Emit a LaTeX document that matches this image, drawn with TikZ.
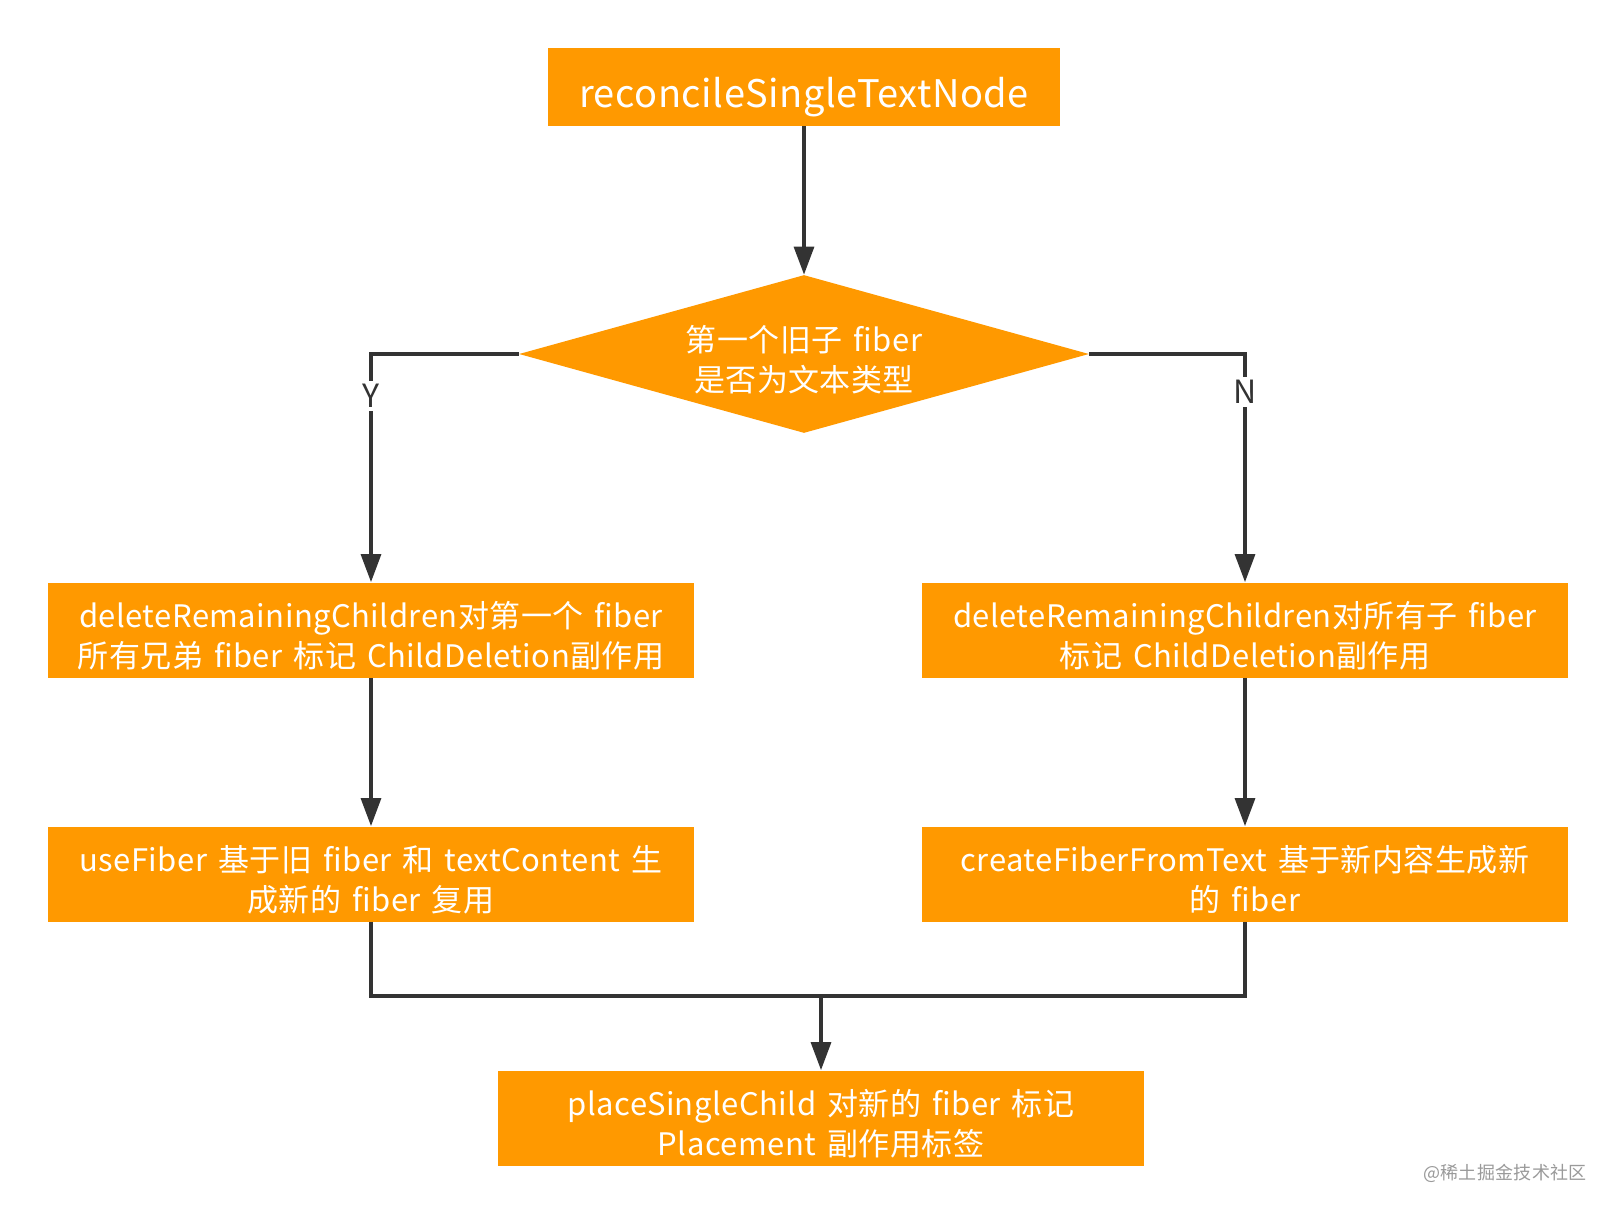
\documentclass[tikz,border=0pt]{standalone}
\usepackage{fontspec}
\setmainfont{Noto Sans CJK SC}[LetterSpace=1.5,WordSpace=1.5]
\usetikzlibrary{arrows.meta,shapes.geometric}
\definecolor{org}{HTML}{FF9900}
\definecolor{lnc}{HTML}{333333}
\definecolor{wm}{HTML}{9A9A9A}
\newcommand{\topstrut}[1]{\rule{0pt}{#1}}
\begin{document}
\begin{tikzpicture}[x=0.5pt,y=-0.5pt,
  box/.style={fill=org, text=white, minimum width=323pt, minimum height=47.5pt,
    inner sep=0pt, align=center, font=\fontsize{15.5}{20}\selectfont},
  conn/.style={draw=lnc, line width=1.6pt, line join=miter},
  arr/.style={conn, -{Triangle[width=10pt,length=14pt]}},
  lbl/.style={fill=white, text=lnc, inner sep=1.5pt, font=\fontsize{16}{18}\selectfont}]
\useasboundingbox (0,0) rectangle (1616,1214);
\fill[white] (0,0) rectangle (1616,1214);

\node[box, minimum width=256pt, minimum height=39pt, font=\fontsize{19}{22}\selectfont]
  (top) at (804,87) {\topstrut{25.3pt}reconcileSingleTextNode};
\node[diamond, aspect=3.6, fill=org, text=white, minimum width=285pt, minimum height=79pt,
  inner sep=0pt, align=center, font=\fontsize{15.5}{20}\selectfont]
  (dec) at (804,354) {\topstrut{19.2pt}第一个旧子 fiber\\是否为文本类型};

\node[box] (l1) at (371,630) {\topstrut{18.8pt}deleteRemainingChildren对第一个 fiber\\所有兄弟 fiber 标记 ChildDeletion副作用};
\node[box] (r1) at (1245,630) {\topstrut{18.8pt}deleteRemainingChildren对所有子 fiber\\标记 ChildDeletion副作用};
\node[box] (l2) at (371,874) {\topstrut{18.8pt}useFiber 基于旧 fiber 和 textContent 生\\成新的 fiber 复用};
\node[box] (r2) at (1245,874) {\topstrut{18.8pt}createFiberFromText 基于新内容生成新\\的 fiber};
\node[box] (b) at (821,1118) {\topstrut{18.8pt}placeSingleChild 对新的 fiber 标记\\Placement 副作用标签};

\coordinate (mm) at (821,996);

\draw[arr] (top) -- (dec);
\draw[arr] (dec.west) -| (l1.north);
\draw[arr] (dec.east) -| (r1.north);
\draw[arr] (l1) -- (l2);
\draw[arr] (r1) -- (r2);
\draw[conn] (l2.south) |- (mm) -| (r2.south);
\draw[arr] (mm) -- (b.north);

\node[lbl] (ylab) at (371,396) {Y};
\node[lbl] (nlab) at (1245,392) {N};

\node[text=wm, inner sep=0pt, font=\fontsize{9}{10}\selectfont] (wmk) at (1505,1173) {@稀土掘金技术社区};
\end{tikzpicture}
\end{document}
